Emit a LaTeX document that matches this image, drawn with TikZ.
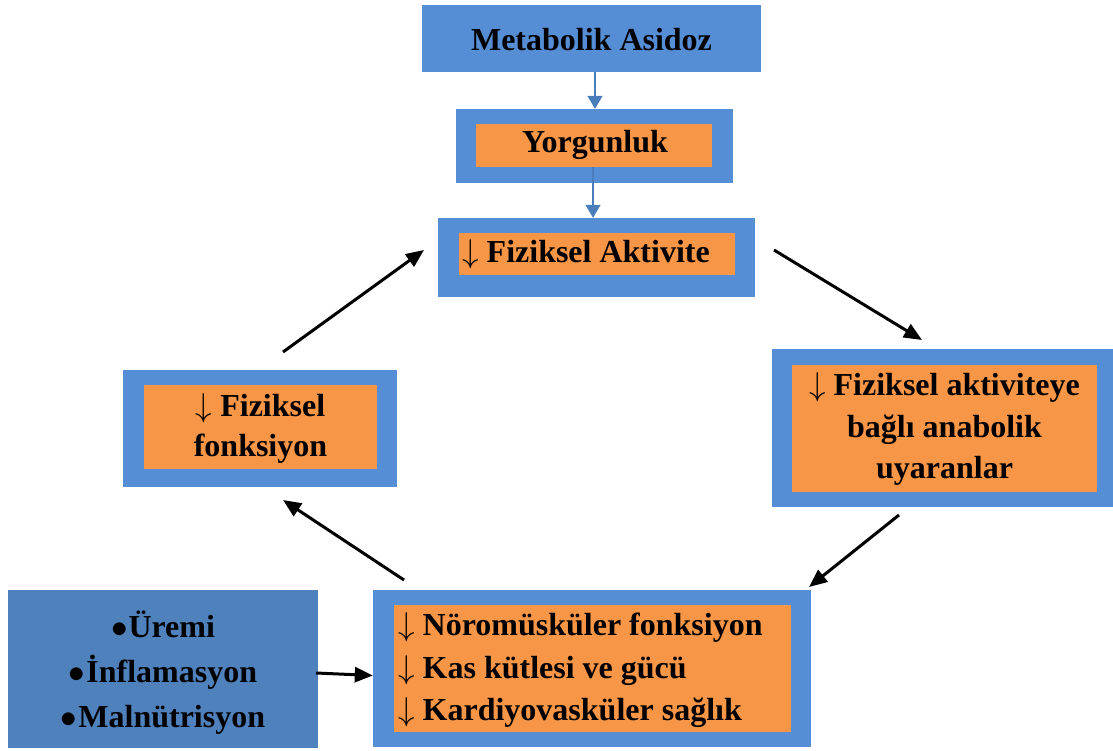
\documentclass[tikz,border=0pt]{standalone}
\usepackage{fontspec}
\setmainfont{Liberation Serif}
\usetikzlibrary{arrows.meta}
\definecolor{boxblue}{RGB}{85,142,213}
\definecolor{boxorange}{RGB}{247,150,70}
\definecolor{darkblue}{RGB}{79,129,189}
\definecolor{arrowblue}{RGB}{74,126,187}
\newcommand{\dnarr}{{\fontsize{10}{12}\selectfont\scalebox{3.3}{$\downarrow$}}}
\newcommand{\blt}{{\fontsize{10}{12}\selectfont\scalebox{3.3}{$\bullet$}}\hspace{1pt}}
\tikzset{
  outerbox/.style={rectangle,fill=boxblue,draw=none,inner sep=0pt},
  innerbox/.style={rectangle,fill=boxorange,draw=none,inner sep=0pt},
  darkbox/.style={rectangle,fill=darkblue,draw=none,inner sep=0pt},
  txt/.style={inner sep=0pt,font=\fontsize{32}{41}\selectfont\bfseries},
  bluearrow/.style={draw=arrowblue,line width=1.5pt,-{Triangle[length=13pt,width=15pt]}},
  blackarrow/.style={draw=black,line width=3pt,-{Triangle[length=18pt,width=15pt]}}
}
\begin{document}
\begin{tikzpicture}[x=1pt,y=-1pt]
\useasboundingbox (0,0) rectangle (1113,751);
% Metabolik Asidoz
\node[outerbox,minimum width=339pt,minimum height=67pt] (ma) at (591.5,38.5) {};
\node[txt] (maT) at (591.5,40) {Metabolik Asidoz};
% Yorgunluk
\node[outerbox,minimum width=277pt,minimum height=74pt] (yo) at (594.5,146) {};
\node[innerbox,minimum width=236pt,minimum height=43pt] (yoIn) at (594,145.5) {};
\node[txt] (yoT) at (595,145) {Yorgunluk};
% Fiziksel Aktivite
\node[outerbox,minimum width=317pt,minimum height=79pt] (fa) at (596.5,257.5) {};
\node[innerbox,minimum width=276pt,minimum height=42pt] (faIn) at (597,254) {};
\node[txt,anchor=west] (faT) at (462,254) {\dnarr{} Fiziksel Aktivite};
% Fiziksel fonksiyon (left)
\node[outerbox,minimum width=274pt,minimum height=117pt] (ff) at (260,428.5) {};
\node[innerbox,minimum width=233pt,minimum height=84pt] (ffIn) at (260.5,427) {};
\node[txt,align=center,font=\fontsize{32}{40}\selectfont\bfseries] (ffT) at (260.5,428) {\dnarr{} Fiziksel\\fonksiyon};
% anabolik (right)
\node[outerbox,minimum width=341pt,minimum height=158pt] (an) at (942.5,428) {};
\node[innerbox,minimum width=305pt,minimum height=127pt] (anIn) at (944.5,428.5) {};
\node[txt,align=center,font=\fontsize{32}{41.5}\selectfont\bfseries] (anT) at (944.5,429) {\dnarr{} Fiziksel aktiviteye\\bağlı anabolik\\uyaranlar};
% bottom center
\node[outerbox,minimum width=438pt,minimum height=157pt] (bo) at (592,668.5) {};
\node[innerbox,minimum width=397pt,minimum height=127pt] (boIn) at (592.5,668.5) {};
\node[txt,align=left,anchor=west,font=\fontsize{32}{42.5}\selectfont\bfseries] (boT) at (398,670.5) {\dnarr{} Nöromüsküler fonksiyon\\\dnarr{} Kas kütlesi ve gücü\\\dnarr{} Kardiyovasküler sağlık};
% dark box
\node[darkbox,minimum width=310pt,minimum height=158pt] (dk) at (163,669) {};
\node[txt,align=center,font=\fontsize{32}{45}\selectfont\bfseries] (dkT) at (163,673) {\blt Üremi\\\blt İnflamasyon\\\blt Malnütrisyon};
% blue arrows
\draw[bluearrow] (ma.south -| 595,0) -- (yo.north -| 595,0);
\draw[bluearrow] (yoIn.south -| 593,0) -- (fa.north -| 593,0);
% black arrows
\coordinate (a1s) at (283,352);
\coordinate (a1e) at (424,250);
\coordinate (a2s) at (774,250);
\coordinate (a2e) at (922,340);
\coordinate (a3s) at (899,515);
\coordinate (a3e) at (809,587);
\coordinate (a4s) at (404,580);
\coordinate (a4e) at (283,500);
\coordinate (a5s) at (316,673);
\path (bo.west) ++(0,7) coordinate (a5e);
\draw[blackarrow] (a1s) -- (a1e);
\draw[blackarrow] (a2s) -- (a2e);
\draw[blackarrow] (a3s) -- (a3e);
\draw[blackarrow] (a4s) -- (a4e);
\draw[blackarrow] (a5s) -- (a5e);
\end{tikzpicture}
\end{document}
